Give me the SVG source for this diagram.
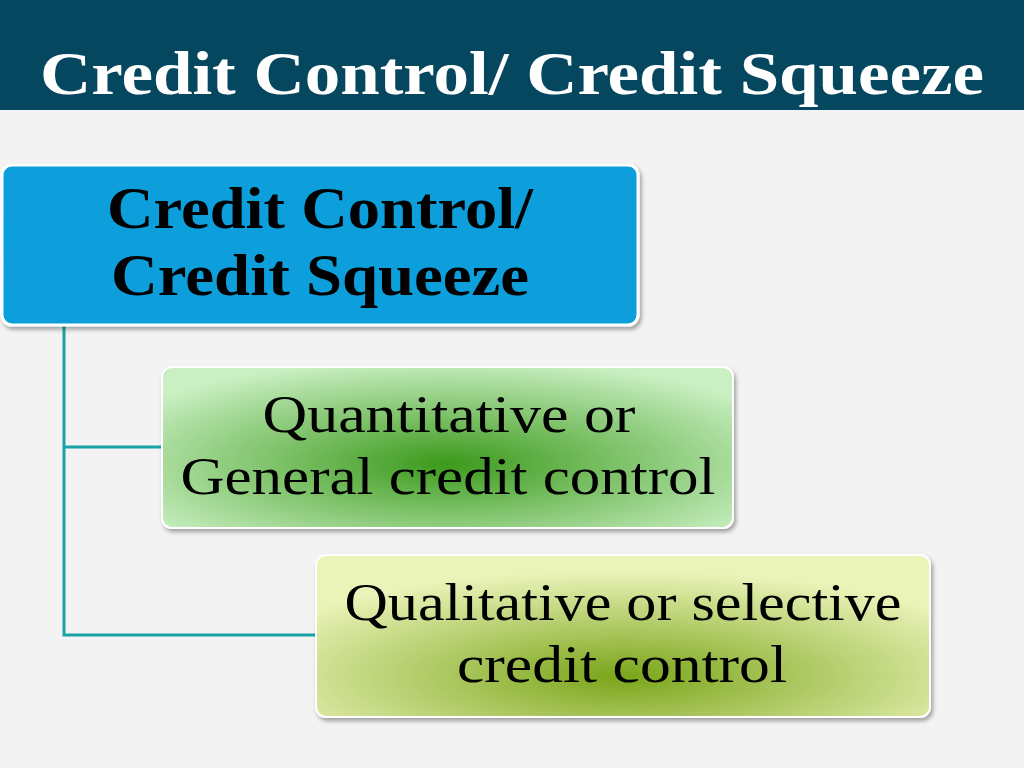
<svg xmlns="http://www.w3.org/2000/svg" width="1024" height="768" viewBox="0 0 1024 768">
<defs>
<radialGradient id="g1" cx="0.5" cy="0.6" r="0.65"><stop offset="0" stop-color="#3c9a1c"/><stop offset="1" stop-color="#c9efc2"/></radialGradient>
<radialGradient id="g2" cx="0.5" cy="0.75" r="0.65"><stop offset="0" stop-color="#7aa51a"/><stop offset="1" stop-color="#eaf3b8"/></radialGradient>
<filter id="sh" x="-5%" y="-5%" width="115%" height="120%"><feDropShadow dx="2" dy="3" stdDeviation="2" flood-opacity="0.35"/></filter>
<style>
.t{font-family:"Liberation Serif",serif;text-anchor:middle}
.c{stroke:#1aa3a6;stroke-width:3;fill:none}
</style>
</defs>
<rect width="1024" height="768" fill="#f3f3f3"/>
<rect x="0" y="0" width="1024" height="110" fill="#05475e"/>
<text class="t" x="512" y="94" font-size="62" font-weight="bold" fill="#ffffff" textLength="944" lengthAdjust="spacingAndGlyphs">Credit Control/ Credit Squeeze</text>
<g id="connectors">
<path class="c" d="M64 325V635H316M64 447H162"/>
</g>
<g id="n1">
<rect x="2" y="165" width="636" height="160" rx="10" fill="#0e9fdb" stroke="#ffffff" stroke-width="3" filter="url(#sh)"/>
<text class="t" x="320" y="228" font-size="60" font-weight="bold" fill="#000" textLength="426" lengthAdjust="spacingAndGlyphs">Credit Control/</text>
<text class="t" x="320" y="295" font-size="60" font-weight="bold" fill="#000" textLength="418" lengthAdjust="spacingAndGlyphs">Credit Squeeze</text>
</g>
<g id="n2">
<rect x="162" y="367" width="571" height="161" rx="10" fill="url(#g1)" stroke="#ffffff" stroke-width="2" filter="url(#sh)"/>
<text class="t" x="449" y="432" font-size="52" fill="#000" textLength="373" lengthAdjust="spacingAndGlyphs">Quantitative or</text>
<text class="t" x="448" y="494" font-size="52" fill="#000" textLength="535" lengthAdjust="spacingAndGlyphs">General credit control</text>
</g>
<g id="n3">
<rect x="316" y="555" width="614" height="162" rx="10" fill="url(#g2)" stroke="#ffffff" stroke-width="2" filter="url(#sh)"/>
<text class="t" x="623" y="620" font-size="52" fill="#000" textLength="557" lengthAdjust="spacingAndGlyphs">Qualitative or selective</text>
<text class="t" x="622" y="682" font-size="52" fill="#000" textLength="330" lengthAdjust="spacingAndGlyphs">credit control</text>
</g>
</svg>
